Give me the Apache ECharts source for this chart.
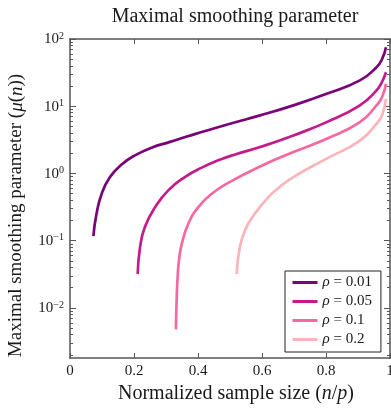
<!DOCTYPE html>
<html>
<head>
<meta charset="utf-8">
<script src="https://cdn.jsdelivr.net/npm/echarts@6/dist/echarts.min.js"></script>
<style>
  html, body { margin: 0; padding: 0; background: #fff; }
  #chart { width: 391px; height: 410px; }
</style>
</head>
<body>
<div id="chart"></div>
<script>
// values
const rhoValues = ['0.01', '0.05', '0.1', '0.2'];

const n001 = [0.073, 0.083, 0.099, 0.125, 0.1615, 0.203, 0.255, 0.3125, 0.365, 0.417, 0.5, 0.594, 0.698, 0.802, 0.906, 0.958, 0.975, 0.9875];
const mu001 = [0.117, 0.253, 0.50, 0.885, 1.36, 1.86, 2.42, 2.95, 3.55, 4.2, 5.5, 7.3, 10.3, 15.3, 24.2, 38, 50, 75.6];

const n005 = [0.2115, 0.219, 0.234, 0.266, 0.307, 0.359, 0.4115, 0.4635, 0.516, 0.594, 0.698, 0.802, 0.906, 0.958, 0.975, 0.9875];
const mu005 = [0.032, 0.0805, 0.16, 0.316, 0.56, 0.885, 1.22, 1.57, 1.92, 2.47, 3.68, 5.8, 10.3, 17.2, 23, 32];

const n01 = [0.331, 0.333, 0.337, 0.342, 0.35, 0.37, 0.401, 0.443, 0.5, 0.594, 0.698, 0.802, 0.906, 0.958, 0.975, 0.9875];
const mu01 = [0.0048, 0.012, 0.033, 0.058, 0.092, 0.18, 0.316, 0.50, 0.75, 1.27, 2.08, 3.29, 5.8, 10.3, 13.6, 21.6];

const n02 = [0.521, 0.529, 0.547, 0.578, 0.615, 0.65, 0.698, 0.802, 0.906, 0.958, 0.975, 0.9875];
const mu02 = [0.032, 0.072, 0.143, 0.253, 0.42, 0.6, 0.885, 1.66, 3.09, 5.5, 7.3, 12.9];

const xTicks = [0, 0.2, 0.4, 0.6, 0.8, 1];
const yMajorTicks = [0.01, 0.1, 1, 10, 100];

const lineColors = ['#7a0177', '#c51b8a', '#f768a1', '#fbb4b9'];
const serif = '"Liberation Serif", "DejaVu Serif", serif';
const ink = '#1a1a1a';
const axisGray = '#555';

// minor log ticks 2..9 per decade
const yMinorTicks = [];
for (let k = -3; k <= 1; k++) {
  for (let m = 2; m <= 9; m++) yMinorTicks.push(+(m * Math.pow(10, k)).toPrecision(3));
}
const yMin = 0.0018, yMax = 100;

const zip = (xs, ys) => xs.map((x, i) => [x, ys[i]]);
const curves = [zip(n001, mu001), zip(n005, mu005), zip(n01, mu01), zip(n02, mu02)];

const chart = echarts.init(document.getElementById('chart'), null, {renderer: 'canvas'});

const supLabel = v => {
  const e = Math.round(Math.log10(v));
  return '{b|10}{s|' + String(e).replace('-', '\u2212') + '}';
};

function yAxisDef(pos, ticks, tickLen, withLabels, showLine) {
  return {
    type: 'log',
    position: pos,
    min: yMin,
    max: yMax,
    logBase: 10,
    axisLine: {show: showLine, lineStyle: {color: axisGray, width: 1.5}},
    axisTick: {show: true, inside: true, length: tickLen, customValues: ticks,
      lineStyle: {color: axisGray, width: 1}},
    axisLabel: {
      show: withLabels,
      customValues: yMajorTicks,
      margin: 6,
      formatter: supLabel,
      rich: {
        b: {fontFamily: serif, fontSize: 15, color: ink, lineHeight: 16, verticalAlign: 'bottom'},
        s: {fontFamily: serif, fontSize: 10, color: ink, verticalAlign: 'top'}
      }
    },
    splitLine: {show: false},
    minorTick: {show: false},
    minorSplitLine: {show: false}
  };
}

function xAxisDef(pos, withLabels) {
  return {
    type: 'value',
    position: pos,
    min: 0,
    max: 1,
    interval: 0.2,
    axisLine: {show: true, onZero: false, lineStyle: {color: axisGray, width: 1.5}},
    axisTick: {show: true, inside: true, length: 5, lineStyle: {color: axisGray, width: 1}},
    axisLabel: {show: withLabels, margin: 6, fontFamily: serif, fontSize: 15, color: ink,
      showMinLabel: true, showMaxLabel: true},
    splitLine: {show: false}
  };
}

const xBottom = xAxisDef('bottom', true);
xBottom.name = '{r|Normalized sample size (}{i|n}{r|/}{i|p}{r|)}';
xBottom.nameLocation = 'middle';
xBottom.nameGap = 24;
xBottom.nameTextStyle = {
  padding: [0, 0, 0, 12],
  rich: {
    r: {fontFamily: serif, fontSize: 20, color: ink},
    i: {fontFamily: serif, fontSize: 20, color: ink, fontStyle: 'italic'}
  }
};

const yLeft = yAxisDef('left', yMajorTicks, 6, true, true);
yLeft.name = '{r|Maximal smoothing parameter (}{i|\u03bc}{r|(}{i|n}{r|))}';
yLeft.nameLocation = 'middle';
yLeft.nameGap = 44;
yLeft.nameTextStyle = {
  padding: [0, 34, 0, 0],
  rich: {
    r: {fontFamily: serif, fontSize: 19, color: ink},
    i: {fontFamily: serif, fontSize: 19, color: ink, fontStyle: 'italic'}
  }
};

chart.setOption({
  animation: false,
  title: {
    text: 'Maximal smoothing parameter',
    left: 230,
    top: 2,
    textAlign: 'center',
    textStyle: {fontFamily: serif, fontSize: 20, fontWeight: 'normal', color: ink}
  },
  grid: {left: 70, right: 1, top: 39, bottom: 52, containLabel: false, outerBoundsMode: 'none'},
  xAxis: [xBottom, xAxisDef('top', false)],
  yAxis: [
    yLeft,
    yAxisDef('left', yMinorTicks, 3, false, false),
    yAxisDef('right', yMajorTicks, 6, false, true),
    yAxisDef('right', yMinorTicks, 3, false, false)
  ],
  legend: {
    orient: 'vertical',
    left: 285,
    top: 271,
    padding: [4, 9, 5, 6],
    itemGap: 4,
    itemWidth: 25,
    itemHeight: 14,
    backgroundColor: '#fff',
    borderColor: '#222',
    borderWidth: 1,
    borderRadius: 0,
    itemStyle: {opacity: 0},
    lineStyle: {width: 3},
    data: rhoValues.map(r => '\u03c1 = ' + r),
    formatter: name => '{i|\u03c1}{t| = ' + name.split('= ')[1] + '}',
    textStyle: {
      fontFamily: serif, fontSize: 15, color: ink, lineHeight: 14,
      rich: {
        i: {fontFamily: serif, fontSize: 15, color: ink, fontStyle: 'italic', lineHeight: 14},
        t: {fontFamily: serif, fontSize: 15, color: ink, lineHeight: 14}
      }
    }
  },
  series: curves.map((data, i) => ({
    name: '\u03c1 = ' + rhoValues[i],
    type: 'line',
    xAxisIndex: 0,
    yAxisIndex: 0,
    data: data,
    symbol: 'none',
    smooth: 0.5,
    color: lineColors[i],
    lineStyle: {color: lineColors[i], width: 2.7}
  }))
});
</script>
</body>
</html>
